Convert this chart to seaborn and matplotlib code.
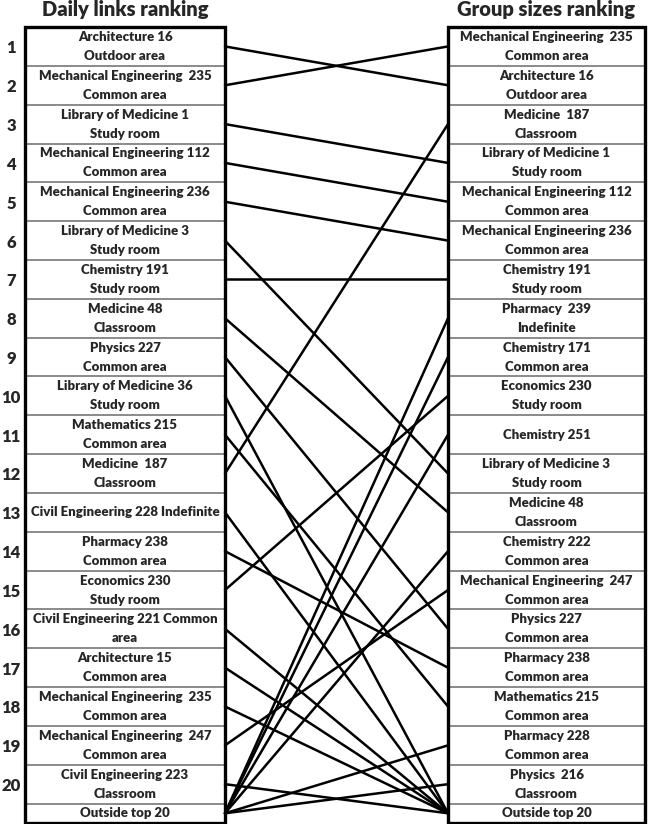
"""
Daily links ranking vs group sizes ranking - slope chart between two ranked lists
"""

import pandas as pd
import numpy as np
import matplotlib.pyplot as plt
import seaborn as sns
from matplotlib.patches import Rectangle

sns.set_style('white')
plt.rcParams['font.family'] = ['Lato', 'DejaVu Sans']

# Left list (daily links ranking)
left_labels = [
    'Architecture 16\nOutdoor area',
    'Mechanical Engineering  235\nCommon area',
    'Library of Medicine 1\nStudy room',
    'Mechanical Engineering 112\nCommon area',
    'Mechanical Engineering 236\nCommon area',
    'Library of Medicine 3\nStudy room',
    'Chemistry 191\nStudy room',
    'Medicine 48\nClassroom',
    'Physics 227\nCommon area',
    'Library of Medicine 36\nStudy room',
    'Mathematics 215\nCommon area',
    'Medicine  187\nClassroom',
    'Civil Engineering 228 Indefinite',
    'Pharmacy 238\nCommon area',
    'Economics 230\nStudy room',
    'Civil Engineering 221 Common\narea',
    'Architecture 15\nCommon area',
    'Mechanical Engineering  235\nCommon area',
    'Mechanical Engineering  247\nCommon area',
    'Civil Engineering 223\nClassroom',
    'Outside top 20',
]

# Right list (group sizes ranking)
right_labels = [
    'Mechanical Engineering  235\nCommon area',
    'Architecture 16\nOutdoor area',
    'Medicine  187\nClassroom',
    'Library of Medicine 1\nStudy room',
    'Mechanical Engineering 112\nCommon area',
    'Mechanical Engineering 236\nCommon area',
    'Chemistry 191\nStudy room',
    'Pharmacy  239\nIndefinite',
    'Chemistry 171\nCommon area',
    'Economics 230\nStudy room',
    'Chemistry 251',
    'Library of Medicine 3\nStudy room',
    'Medicine 48\nClassroom',
    'Chemistry 222\nCommon area',
    'Mechanical Engineering  247\nCommon area',
    'Physics 227\nCommon area',
    'Pharmacy 238\nCommon area',
    'Mathematics 215\nCommon area',
    'Pharmacy 228\nCommon area',
    'Physics  216\nClassroom',
    'Outside top 20',
]

# right rank reached by each left rank 1..20 (21 = outside top 20)
left_to_right = [2, 1, 4, 5, 6, 12, 7, 13, 16, 21,
                 18, 3, 21, 17, 10, 21, 21, 21, 15, 21]
# right ranks reached from left "outside top 20"
outside_to_right = [8, 9, 11, 14, 19, 20]

OUT = 21


def row_center(rank):
    # ranked rows are 1 unit tall, the "outside" row is half a unit
    return 20.75 if rank == OUT else float(rank)


# layout (x in pixels, y in rank units)
W, H = 650, 824
LX0, LX1 = 25, 225
RX0, RX1 = 448, 645
TOP, BOTTOM = 0.5, 21.0
px_per_row = 38.8

fig = plt.figure(figsize=(W / 100, H / 100), dpi=100)
ax = fig.add_axes([0, 0, 1, 1])
ax.set_xlim(0, W)
ax.set_ylim(BOTTOM + 1 / px_per_row, TOP - 27 / px_per_row)
ax.axis('off')

# build connecting line table
rows = []
pair = 0
for i, r in enumerate(left_to_right):
    rows.append({'pair': pair, 'x': LX1, 'y': row_center(i + 1)})
    rows.append({'pair': pair, 'x': RX0, 'y': row_center(r)})
    pair += 1
for r in outside_to_right:
    rows.append({'pair': pair, 'x': LX1, 'y': row_center(OUT)})
    rows.append({'pair': pair, 'x': RX0, 'y': row_center(r)})
    pair += 1
links = pd.DataFrame(rows)

sns.lineplot(data=links, x='x', y='y', units='pair', estimator=None,
             sort=False, color='black', lw=1.8, ax=ax, legend=False)
ax.set_xlabel('')
ax.set_ylabel('')

ITEM_FS = 9.5
ITEM_W = 'heavy'


def draw_column(x0, x1, labels):
    for k in range(1, 21):
        ax.hlines(k + 0.5, x0, x1, color='#8a8a8a', lw=1.4, zorder=3)
    ax.add_patch(Rectangle((x0, TOP), x1 - x0, BOTTOM - TOP, fill=False,
                           ec='black', lw=2.4, zorder=4))
    xc = (x0 + x1) / 2
    for k, lab in enumerate(labels):
        rank = k + 1 if k < 20 else OUT
        yc = row_center(rank)
        parts = lab.split('\n')
        if len(parts) == 2:
            ax.text(xc, yc - 0.245, parts[0], ha='center', va='center',
                    fontsize=ITEM_FS, fontweight=ITEM_W, zorder=5)
            ax.text(xc, yc + 0.245, parts[1], ha='center', va='center',
                    fontsize=ITEM_FS, fontweight=ITEM_W, zorder=5)
        else:
            ax.text(xc, yc, parts[0], ha='center', va='center',
                    fontsize=ITEM_FS, fontweight=ITEM_W, zorder=5)


draw_column(LX0, LX1, left_labels)
draw_column(RX0, RX1, right_labels)

# rank numbers
for k in range(1, 21):
    ax.text(11, k + 0.05, str(k), ha='center', va='center',
            fontsize=12, fontweight='heavy')

# headers
ax.text((LX0 + LX1) / 2, TOP - 0.46, 'Daily links ranking', ha='center',
        va='center', fontsize=14.5, fontweight='heavy')
ax.text((RX0 + RX1) / 2, TOP - 0.46, 'Group sizes ranking', ha='center',
        va='center', fontsize=14.5, fontweight='heavy')

plt.savefig('out.png', dpi=100)
